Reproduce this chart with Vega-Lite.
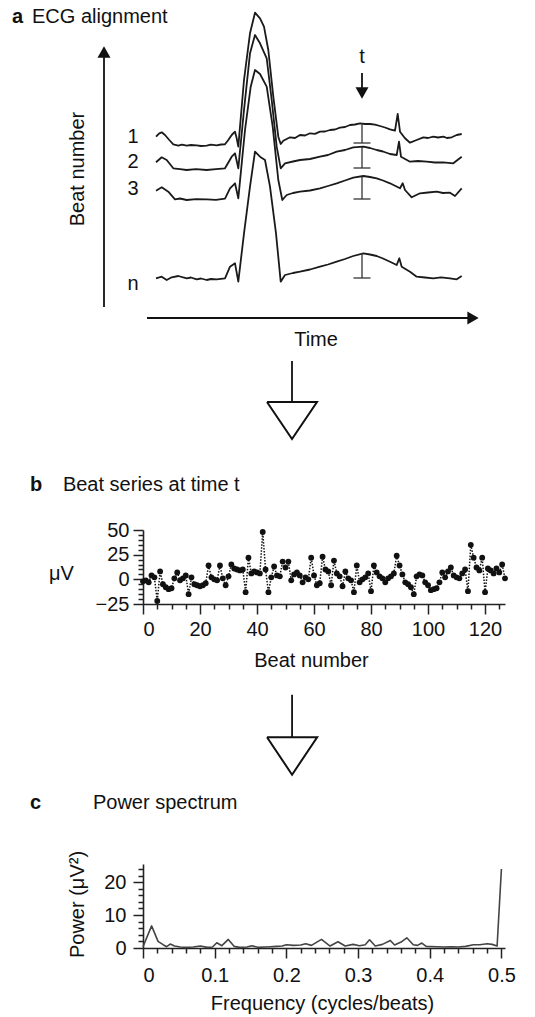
{
"$schema": "https://vega.github.io/schema/vega-lite/v6.json",
"padding": {"left": 12, "top": 0, "right": 5, "bottom": 5},
"background": "white",
"bounds": "flush",
"spacing": 260,
"config": {
  "font": "Liberation Sans",
  "view": {"stroke": null},
  "axis": {"grid": false, "domainColor": "#222", "tickColor": "#222", "labelColor": "#111", "titleColor": "#111", "labelFontSize": 20, "titleFontSize": 20, "titleFontWeight": "normal", "domainWidth": 1.6, "tickWidth": 1.5, "labelFont": "Liberation Sans", "titleFont": "Liberation Sans"}
},
"datasets": {
  "ecg": [
    {"beat":"1","time":13,"level":133.3},{"beat":"1","time":16.3,"level":136.7},{"beat":"1","time":18.7,"level":137.7},{"beat":"1","time":22,"level":135},{"beat":"1","time":26.3,"level":130},{"beat":"1","time":30.3,"level":125.7},{"beat":"1","time":35.3,"level":124.3},{"beat":"1","time":39,"level":125.3},{"beat":"1","time":43.7,"level":124.3},{"beat":"1","time":48,"level":125},{"beat":"1","time":53.7,"level":124.7},{"beat":"1","time":58,"level":124},{"beat":"1","time":63.7,"level":124.3},{"beat":"1","time":68,"level":125.3},{"beat":"1","time":73.7,"level":124.7},{"beat":"1","time":78,"level":125.5},{"beat":"1","time":82,"level":125.7},{"beat":"1","time":85.3,"level":130},{"beat":"1","time":88.7,"level":135},{"beat":"1","time":92,"level":138.3},{"beat":"1","time":93.7,"level":131.7},{"beat":"1","time":95.3,"level":123.3},{"beat":"1","time":101,"level":190},{"beat":"1","time":107,"level":236.7},{"beat":"1","time":112,"level":257.3},{"beat":"1","time":117,"level":251.7},{"beat":"1","time":121,"level":243.3},{"beat":"1","time":125.3,"level":220},{"beat":"1","time":130.3,"level":173.3},{"beat":"1","time":135.3,"level":133.3},{"beat":"1","time":137.7,"level":126},{"beat":"1","time":140.3,"level":129.3},{"beat":"1","time":147,"level":132.7},{"beat":"1","time":152,"level":132},{"beat":"1","time":157,"level":135},{"beat":"1","time":162,"level":134.5},{"beat":"1","time":167,"level":136.7},{"beat":"1","time":172,"level":136.2},{"beat":"1","time":177,"level":138.3},{"beat":"1","time":182,"level":138.5},{"beat":"1","time":187,"level":140},{"beat":"1","time":192,"level":140.5},{"beat":"1","time":197,"level":142.3},{"beat":"1","time":202,"level":143},{"beat":"1","time":207,"level":145},{"beat":"1","time":212,"level":145.5},{"beat":"1","time":217,"level":146.7},{"beat":"1","time":222,"level":146},{"beat":"1","time":227,"level":146},{"beat":"1","time":232,"level":145.3},{"beat":"1","time":237,"level":144},{"beat":"1","time":242,"level":142.5},{"beat":"1","time":247,"level":140.7},{"beat":"1","time":252,"level":139.3},{"beat":"1","time":254.7,"level":156},{"beat":"1","time":257,"level":138.3},{"beat":"1","time":262,"level":131.7},{"beat":"1","time":267,"level":127.3},{"beat":"1","time":273.7,"level":130},{"beat":"1","time":280.3,"level":132.7},{"beat":"1","time":285,"level":132},{"beat":"1","time":290.3,"level":133.3},{"beat":"1","time":295,"level":132.5},{"beat":"1","time":300.3,"level":133.3},{"beat":"1","time":304,"level":132},{"beat":"1","time":308.7,"level":132.7},{"beat":"1","time":313.7,"level":135},{"beat":"1","time":318.7,"level":136},
    {"beat":"2","time":13,"level":107.7},{"beat":"2","time":18.7,"level":112.7},{"beat":"2","time":23.7,"level":110},{"beat":"2","time":30.3,"level":101.7},{"beat":"2","time":37,"level":100.8},{"beat":"2","time":43.7,"level":100},{"beat":"2","time":53,"level":100.8},{"beat":"2","time":63.7,"level":100},{"beat":"2","time":73,"level":100.8},{"beat":"2","time":82,"level":101.7},{"beat":"2","time":88.7,"level":113.3},{"beat":"2","time":92,"level":116.7},{"beat":"2","time":95.3,"level":101.7},{"beat":"2","time":101,"level":160},{"beat":"2","time":107,"level":216.7},{"beat":"2","time":112,"level":235},{"beat":"2","time":117,"level":226.7},{"beat":"2","time":123.7,"level":211.7},{"beat":"2","time":128.7,"level":170},{"beat":"2","time":133.7,"level":123.3},{"beat":"2","time":137.7,"level":101.7},{"beat":"2","time":142,"level":106.7},{"beat":"2","time":150,"level":108.5},{"beat":"2","time":157,"level":110},{"beat":"2","time":167,"level":111},{"beat":"2","time":177,"level":113.3},{"beat":"2","time":185,"level":115},{"beat":"2","time":193.7,"level":118.3},{"beat":"2","time":202,"level":120},{"beat":"2","time":210.3,"level":122.7},{"beat":"2","time":220.3,"level":123.3},{"beat":"2","time":227,"level":122},{"beat":"2","time":233.7,"level":120},{"beat":"2","time":240,"level":118.5},{"beat":"2","time":247,"level":116},{"beat":"2","time":253.7,"level":115},{"beat":"2","time":256,"level":128.3},{"beat":"2","time":258,"level":113.3},{"beat":"2","time":267,"level":108.3},{"beat":"2","time":275,"level":109},{"beat":"2","time":283.7,"level":108.3},{"beat":"2","time":292,"level":107.5},{"beat":"2","time":300.3,"level":107.7},{"beat":"2","time":310.3,"level":106.7},{"beat":"2","time":318.7,"level":113.3},
    {"beat":"3","time":13,"level":79.3},{"beat":"3","time":18.7,"level":82.7},{"beat":"3","time":25.3,"level":78.3},{"beat":"3","time":32,"level":70.7},{"beat":"3","time":37,"level":71.5},{"beat":"3","time":43.7,"level":70},{"beat":"3","time":53,"level":70.8},{"beat":"3","time":63.7,"level":70.7},{"beat":"3","time":73,"level":70.2},{"beat":"3","time":82,"level":71.3},{"beat":"3","time":87,"level":81.7},{"beat":"3","time":92,"level":86.7},{"beat":"3","time":95.3,"level":71.7},{"beat":"3","time":102,"level":140},{"beat":"3","time":107.7,"level":183.3},{"beat":"3","time":112,"level":200},{"beat":"3","time":117,"level":196},{"beat":"3","time":123.7,"level":183.3},{"beat":"3","time":129.7,"level":143.3},{"beat":"3","time":135.3,"level":90},{"beat":"3","time":139.3,"level":70},{"beat":"3","time":143.7,"level":75},{"beat":"3","time":150,"level":77},{"beat":"3","time":157,"level":78.3},{"beat":"3","time":167,"level":79.5},{"beat":"3","time":177,"level":81.7},{"beat":"3","time":185,"level":84},{"beat":"3","time":193.7,"level":86.7},{"beat":"3","time":202,"level":89.5},{"beat":"3","time":210.3,"level":92.3},{"beat":"3","time":220.3,"level":94},{"beat":"3","time":227,"level":93},{"beat":"3","time":233.7,"level":91.7},{"beat":"3","time":240,"level":89.5},{"beat":"3","time":247,"level":86.7},{"beat":"3","time":257,"level":81.7},{"beat":"3","time":259.7,"level":86.7},{"beat":"3","time":262,"level":80},{"beat":"3","time":268.7,"level":72.7},{"beat":"3","time":277,"level":76.7},{"beat":"3","time":285,"level":77.5},{"beat":"3","time":293.7,"level":78.3},{"beat":"3","time":300,"level":77},{"beat":"3","time":307,"level":77.3},{"beat":"3","time":312,"level":74},{"beat":"3","time":318.7,"level":81.7},
    {"beat":"n","time":13,"level":-8.3},{"beat":"n","time":18.7,"level":-6.7},{"beat":"n","time":23.7,"level":-10},{"beat":"n","time":28.7,"level":-7.3},{"beat":"n","time":35.3,"level":-6},{"beat":"n","time":43.7,"level":-8.3},{"beat":"n","time":48,"level":-7.5},{"beat":"n","time":53.7,"level":-9.3},{"beat":"n","time":58,"level":-8.5},{"beat":"n","time":63.7,"level":-10},{"beat":"n","time":68,"level":-9},{"beat":"n","time":73.7,"level":-9.3},{"beat":"n","time":82,"level":-8.3},{"beat":"n","time":87,"level":3.3},{"beat":"n","time":92,"level":6.7},{"beat":"n","time":95.3,"level":-11.7},{"beat":"n","time":101,"level":36.7},{"beat":"n","time":107,"level":83.3},{"beat":"n","time":112,"level":118.3},{"beat":"n","time":117,"level":113.3},{"beat":"n","time":122,"level":110},{"beat":"n","time":127,"level":83.3},{"beat":"n","time":133,"level":36.7},{"beat":"n","time":137.7,"level":-11.7},{"beat":"n","time":142,"level":-5},{"beat":"n","time":150,"level":-3},{"beat":"n","time":157,"level":-1.7},{"beat":"n","time":167,"level":0.5},{"beat":"n","time":177,"level":3.3},{"beat":"n","time":185,"level":5.5},{"beat":"n","time":193.7,"level":8.3},{"beat":"n","time":202,"level":11},{"beat":"n","time":210.3,"level":14},{"beat":"n","time":220.3,"level":16.7},{"beat":"n","time":227,"level":15.5},{"beat":"n","time":233.7,"level":14},{"beat":"n","time":240,"level":11.5},{"beat":"n","time":247,"level":8.3},{"beat":"n","time":253.7,"level":5},{"beat":"n","time":256.3,"level":11.7},{"beat":"n","time":258.7,"level":3.3},{"beat":"n","time":267,"level":-1.7},{"beat":"n","time":273.7,"level":-6.7},{"beat":"n","time":282,"level":-7.5},{"beat":"n","time":290.3,"level":-8.3},{"beat":"n","time":298,"level":-7.3},{"beat":"n","time":307,"level":-8.3},{"beat":"n","time":313.7,"level":-9.3},{"beat":"n","time":318.7,"level":-6}
  ],
  "ebars": [
    {"beat":"1","x":219,"top":147,"bottom":127},
    {"beat":"2","x":219,"top":123,"bottom":102},
    {"beat":"3","x":219,"top":93,"bottom":71},
    {"beat":"n","x":219,"top":17,"bottom":-8}
  ],
  "shaftsA": [
    {"x":-39,"y":-37,"x2":-39,"y2":213},
    {"x":4,"y":-48,"x2":326,"y2":-48},
    {"x":219,"y":197,"x2":219,"y2":182},
    {"x":149,"y":-91,"x2":149,"y2":-132}
  ],
  "headsA": [
    {"x":-39,"y":218,"dir":"up"},
    {"x":330,"y":-48,"dir":"right"},
    {"x":219,"y":177,"dir":"down"}
  ],
  "triA": [
    {"i":0,"x":124,"y":-132},{"i":1,"x":174,"y":-132},{"i":2,"x":149,"y":-169},{"i":3,"x":124,"y":-132}
  ],
  "labelsA": [
    {"x":-10,"y":133,"text":"1"},{"x":-10,"y":108,"text":"2"},{"x":-10,"y":81,"text":"3"},{"x":-10,"y":-14,"text":"n"},{"x":219,"y":213,"text":"t"},{"x":173,"y":-70,"text":"Time"}
  ],
  "boldA": [{"x":-131,"y":253,"text":"a"}],
  "titleA": [{"x":-111,"y":253,"text":"ECG alignment"}],
  "rotA": [{"x":-65,"y":101,"text":"Beat number"}],
  "beats": [
    {"beat":0,"uV":-2},{"beat":1,"uV":-1},{"beat":2,"uV":-3},{"beat":3,"uV":4},{"beat":4,"uV":2},{"beat":5,"uV":-22},{"beat":6,"uV":8},{"beat":7,"uV":-5},{"beat":8,"uV":-8},{"beat":9,"uV":-10},
    {"beat":10,"uV":-9},{"beat":11,"uV":1},{"beat":12,"uV":7},{"beat":13,"uV":-1},{"beat":14,"uV":1},{"beat":15,"uV":4},{"beat":16,"uV":-15},{"beat":17,"uV":2},{"beat":18,"uV":-5},{"beat":19,"uV":-6},
    {"beat":20,"uV":-7},{"beat":21,"uV":-6},{"beat":22,"uV":-4},{"beat":23,"uV":14},{"beat":24,"uV":2},{"beat":25,"uV":0},{"beat":26,"uV":-1},{"beat":27,"uV":14},{"beat":28,"uV":1},{"beat":29,"uV":-6},
    {"beat":30,"uV":3},{"beat":31,"uV":15},{"beat":32,"uV":11},{"beat":33,"uV":10},{"beat":34,"uV":9},{"beat":35,"uV":10},{"beat":36,"uV":-13},{"beat":37,"uV":22},{"beat":38,"uV":6},{"beat":39,"uV":8},
    {"beat":40,"uV":7},{"beat":41,"uV":6},{"beat":42,"uV":48},{"beat":43,"uV":10},{"beat":44,"uV":-13},{"beat":45,"uV":2},{"beat":46,"uV":13},{"beat":47,"uV":4},{"beat":48,"uV":3},{"beat":49,"uV":18},
    {"beat":50,"uV":12},{"beat":51,"uV":18},{"beat":52,"uV":-1},{"beat":53,"uV":5},{"beat":54,"uV":7},{"beat":55,"uV":4},{"beat":56,"uV":-3},{"beat":57,"uV":2},{"beat":58,"uV":0},{"beat":59,"uV":22},
    {"beat":60,"uV":4},{"beat":61,"uV":-6},{"beat":62,"uV":-4},{"beat":63,"uV":23},{"beat":64,"uV":10},{"beat":65,"uV":8},{"beat":66,"uV":-6},{"beat":67,"uV":19},{"beat":68,"uV":6},{"beat":69,"uV":3},
    {"beat":70,"uV":-7},{"beat":71,"uV":8},{"beat":72,"uV":1},{"beat":73,"uV":-1},{"beat":74,"uV":-13},{"beat":75,"uV":14},{"beat":76,"uV":-3},{"beat":77,"uV":0},{"beat":78,"uV":2},{"beat":79,"uV":6},
    {"beat":80,"uV":-12},{"beat":81,"uV":14},{"beat":82,"uV":7},{"beat":83,"uV":3},{"beat":84,"uV":1},{"beat":85,"uV":-3},{"beat":86,"uV":1},{"beat":87,"uV":3},{"beat":88,"uV":6},{"beat":89,"uV":24},
    {"beat":90,"uV":14},{"beat":91,"uV":5},{"beat":92,"uV":-3},{"beat":93,"uV":-5},{"beat":94,"uV":-8},{"beat":95,"uV":-15},{"beat":96,"uV":3},{"beat":97,"uV":5},{"beat":98,"uV":4},{"beat":99,"uV":-3},
    {"beat":100,"uV":-6},{"beat":101,"uV":-11},{"beat":102,"uV":-10},{"beat":103,"uV":-9},{"beat":104,"uV":-3},{"beat":105,"uV":7},{"beat":106,"uV":2},{"beat":107,"uV":8},{"beat":108,"uV":12},{"beat":109,"uV":4},
    {"beat":110,"uV":2},{"beat":111,"uV":1},{"beat":112,"uV":6},{"beat":113,"uV":10},{"beat":114,"uV":-12},{"beat":115,"uV":35},{"beat":116,"uV":22},{"beat":117,"uV":12},{"beat":118,"uV":9},{"beat":119,"uV":22},
    {"beat":120,"uV":-13},{"beat":121,"uV":11},{"beat":122,"uV":9},{"beat":123,"uV":6},{"beat":124,"uV":11},{"beat":125,"uV":7},{"beat":126,"uV":15},{"beat":127,"uV":1}
  ],
  "boldB": [{"x":-39.6,"y":95.6,"text":"b"}],
  "titleB": [{"x":-28.1,"y":95.6,"text":"Beat series at time t"}],
  "shaftB": [{"x":52.3,"y":-117,"x2":52.3,"y2":-160}],
  "triB": [{"i":0,"x":43.5,"y":-160},{"i":1,"x":61.1,"y":-160},{"i":2,"x":52.3,"y":-198},{"i":3,"x":43.5,"y":-160}],
  "power": [
    {"f":0,"p":0.4},{"f":0.012,"p":6.7},{"f":0.021,"p":2.0},{"f":0.028,"p":1.0},{"f":0.033,"p":0.4},{"f":0.038,"p":1.2},{"f":0.044,"p":0.6},{"f":0.052,"p":0.3},{"f":0.06,"p":0.2},{"f":0.07,"p":0.3},{"f":0.08,"p":0.6},{"f":0.09,"p":0.2},{"f":0.097,"p":0.3},{"f":0.103,"p":1.6},{"f":0.11,"p":0.7},{"f":0.119,"p":2.6},{"f":0.127,"p":0.5},{"f":0.135,"p":0.2},{"f":0.145,"p":0.3},{"f":0.152,"p":0.7},{"f":0.16,"p":0.2},{"f":0.17,"p":0.3},{"f":0.178,"p":0.4},{"f":0.186,"p":0.5},{"f":0.194,"p":0.6},{"f":0.2,"p":1.0},{"f":0.21,"p":0.8},{"f":0.22,"p":0.9},{"f":0.227,"p":1.3},{"f":0.235,"p":0.8},{"f":0.249,"p":2.6},{"f":0.261,"p":0.6},{"f":0.272,"p":1.9},{"f":0.282,"p":0.6},{"f":0.293,"p":1.1},{"f":0.302,"p":0.7},{"f":0.31,"p":1.0},{"f":0.316,"p":2.5},{"f":0.324,"p":0.6},{"f":0.334,"p":1.1},{"f":0.345,"p":2.3},{"f":0.351,"p":0.9},{"f":0.36,"p":1.8},{"f":0.368,"p":3.1},{"f":0.377,"p":1.0},{"f":0.383,"p":0.8},{"f":0.389,"p":1.5},{"f":0.395,"p":0.5},{"f":0.41,"p":0.4},{"f":0.42,"p":0.3},{"f":0.43,"p":0.4},{"f":0.44,"p":0.3},{"f":0.45,"p":0.5},{"f":0.461,"p":1.0},{"f":0.47,"p":1.0},{"f":0.48,"p":1.3},{"f":0.487,"p":1.1},{"f":0.494,"p":0.6},{"f":0.5,"p":24}
  ],
  "boldC": [{"x":-0.1576,"y":44,"text":"c"}],
  "titleC": [{"x":-0.0698,"y":44,"text":"Power spectrum"}]
},
"vconcat": [
  {
    "width": 330, "height": 270,
    "layer": [
      {"data": {"name": "ecg"}, "mark": {"type": "line", "color": "#1a1a1a", "strokeWidth": 1.8, "strokeJoin": "round", "clip": false},
       "encoding": {"x": {"field": "time", "type": "quantitative", "scale": {"domain": [0, 330], "nice": false, "zero": false}, "axis": null},
                    "y": {"field": "level", "type": "quantitative", "scale": {"domain": [0, 270], "nice": false, "zero": false}, "axis": null},
                    "detail": {"field": "beat", "type": "nominal"}}},
      {"data": {"name": "ebars"}, "mark": {"type": "rule", "color": "#333", "strokeWidth": 1.3},
       "encoding": {"x": {"field": "x", "type": "quantitative", "scale": {"domain": [0, 330], "nice": false, "zero": false}, "axis": null},
                    "y": {"field": "top", "type": "quantitative", "scale": {"domain": [0, 270], "nice": false, "zero": false}, "axis": null},
                    "y2": {"field": "bottom"}}},
      {"data": {"name": "ebars"}, "mark": {"type": "tick", "orient": "horizontal", "size": 17, "thickness": 1.3, "color": "#333", "opacity": 1},
       "encoding": {"x": {"field": "x", "type": "quantitative", "scale": {"domain": [0, 330], "nice": false, "zero": false}, "axis": null},
                    "y": {"field": "bottom", "type": "quantitative", "scale": {"domain": [0, 270], "nice": false, "zero": false}, "axis": null}}},
      {"data": {"name": "shaftsA"}, "mark": {"type": "rule", "color": "#111", "strokeWidth": 1.8},
       "encoding": {"x": {"field": "x", "type": "quantitative", "scale": {"domain": [0, 330], "nice": false, "zero": false}, "axis": null},
                    "y": {"field": "y", "type": "quantitative", "scale": {"domain": [0, 270], "nice": false, "zero": false}, "axis": null},
                    "x2": {"field": "x2"}, "y2": {"field": "y2"}}},
      {"data": {"name": "headsA"}, "mark": {"type": "point", "filled": true, "size": 170, "color": "#111", "opacity": 1},
       "encoding": {"x": {"field": "x", "type": "quantitative", "scale": {"domain": [0, 330], "nice": false, "zero": false}, "axis": null},
                    "y": {"field": "y", "type": "quantitative", "scale": {"domain": [0, 270], "nice": false, "zero": false}, "axis": null},
                    "shape": {"field": "dir", "type": "nominal", "scale": {"domain": ["up", "right", "down"], "range": ["triangle-up", "triangle-right", "triangle-down"]}, "legend": null}}},
      {"data": {"name": "triA"}, "mark": {"type": "line", "color": "#111", "strokeWidth": 2, "strokeJoin": "miter", "clip": false},
       "encoding": {"x": {"field": "x", "type": "quantitative", "scale": {"domain": [0, 330], "nice": false, "zero": false}, "axis": null},
                    "y": {"field": "y", "type": "quantitative", "scale": {"domain": [0, 270], "nice": false, "zero": false}, "axis": null},
                    "order": {"field": "i", "type": "quantitative"}}},
      {"data": {"name": "labelsA"}, "mark": {"type": "text", "fontSize": 20, "align": "center", "baseline": "middle", "color": "#111"},
       "encoding": {"x": {"field": "x", "type": "quantitative", "scale": {"domain": [0, 330], "nice": false, "zero": false}, "axis": null},
                    "y": {"field": "y", "type": "quantitative", "scale": {"domain": [0, 270], "nice": false, "zero": false}, "axis": null},
                    "text": {"field": "text"}}},
      {"data": {"name": "boldA"}, "mark": {"type": "text", "fontSize": 20, "fontWeight": "bold", "align": "left", "baseline": "middle", "color": "#111"},
       "encoding": {"x": {"field": "x", "type": "quantitative", "scale": {"domain": [0, 330], "nice": false, "zero": false}, "axis": null},
                    "y": {"field": "y", "type": "quantitative", "scale": {"domain": [0, 270], "nice": false, "zero": false}, "axis": null},
                    "text": {"field": "text"}}},
      {"data": {"name": "titleA"}, "mark": {"type": "text", "fontSize": 20, "align": "left", "baseline": "middle", "color": "#111"},
       "encoding": {"x": {"field": "x", "type": "quantitative", "scale": {"domain": [0, 330], "nice": false, "zero": false}, "axis": null},
                    "y": {"field": "y", "type": "quantitative", "scale": {"domain": [0, 270], "nice": false, "zero": false}, "axis": null},
                    "text": {"field": "text"}}},
      {"data": {"name": "rotA"}, "mark": {"type": "text", "fontSize": 20, "align": "center", "baseline": "middle", "angle": 270, "color": "#111"},
       "encoding": {"x": {"field": "x", "type": "quantitative", "scale": {"domain": [0, 330], "nice": false, "zero": false}, "axis": null},
                    "y": {"field": "y", "type": "quantitative", "scale": {"domain": [0, 270], "nice": false, "zero": false}, "axis": null},
                    "text": {"field": "text"}}}
    ]
  },
  {
    "width": 362, "height": 74,
    "resolve": {"axis": {"x": "independent", "y": "independent"}},
    "layer": [
      {"data": {"name": "beats"}, "mark": {"type": "line", "color": "#111", "strokeWidth": 1.5, "strokeDash": [1.5, 1.5]},
       "encoding": {"x": {"field": "beat", "type": "quantitative", "scale": {"domain": [0, 127], "nice": false, "zero": false},
                          "axis": {"orient": "bottom", "values": [0, 20, 40, 60, 80, 100, 120], "tickSize": 10, "labelPadding": 5, "title": "Beat number", "titleX": 168, "titleY": 56, "titleAlign": "center", "titleBaseline": "middle"}},
                    "y": {"field": "uV", "type": "quantitative", "scale": {"domain": [-25, 50], "nice": false, "zero": false},
                          "axis": {"orient": "left", "values": [-25, 0, 25, 50], "tickSize": 10, "labelPadding": 4, "title": "μV", "titleAngle": 0, "titleX": -82, "titleY": 43, "titleAlign": "center", "titleBaseline": "middle"}}}},
      {"data": {"name": "beats"}, "mark": {"type": "point", "filled": true, "size": 34, "color": "#111", "opacity": 1},
       "encoding": {"x": {"field": "beat", "type": "quantitative", "scale": {"domain": [0, 127], "nice": false, "zero": false},
                          "axis": {"orient": "bottom", "values": [5, 10, 15, 25, 30, 35, 45, 50, 55, 65, 70, 75, 85, 90, 95, 105, 110, 115, 125], "tickSize": 5, "labels": false, "domain": false, "title": null}},
                    "y": {"field": "uV", "type": "quantitative", "scale": {"domain": [-25, 50], "nice": false, "zero": false},
                          "axis": {"orient": "left", "values": [-20, -15, -10, -5, 5, 10, 15, 20, 30, 35, 40, 45], "tickSize": 5, "labels": false, "domain": false, "title": null}}}},
      {"data": {"name": "boldB"}, "mark": {"type": "text", "fontSize": 20, "fontWeight": "bold", "align": "left", "baseline": "middle", "color": "#111"},
       "encoding": {"x": {"field": "x", "type": "quantitative", "scale": {"domain": [0, 127], "nice": false, "zero": false}, "axis": null},
                    "y": {"field": "y", "type": "quantitative", "scale": {"domain": [-25, 50], "nice": false, "zero": false}, "axis": null},
                    "text": {"field": "text"}}},
      {"data": {"name": "titleB"}, "mark": {"type": "text", "fontSize": 20, "align": "left", "baseline": "middle", "color": "#111"},
       "encoding": {"x": {"field": "x", "type": "quantitative", "scale": {"domain": [0, 127], "nice": false, "zero": false}, "axis": null},
                    "y": {"field": "y", "type": "quantitative", "scale": {"domain": [-25, 50], "nice": false, "zero": false}, "axis": null},
                    "text": {"field": "text"}}},
      {"data": {"name": "shaftB"}, "mark": {"type": "rule", "color": "#111", "strokeWidth": 1.8},
       "encoding": {"x": {"field": "x", "type": "quantitative", "scale": {"domain": [0, 127], "nice": false, "zero": false}, "axis": null},
                    "y": {"field": "y", "type": "quantitative", "scale": {"domain": [-25, 50], "nice": false, "zero": false}, "axis": null},
                    "x2": {"field": "x2"}, "y2": {"field": "y2"}}},
      {"data": {"name": "triB"}, "mark": {"type": "line", "color": "#111", "strokeWidth": 2, "strokeJoin": "miter", "clip": false},
       "encoding": {"x": {"field": "x", "type": "quantitative", "scale": {"domain": [0, 127], "nice": false, "zero": false}, "axis": null},
                    "y": {"field": "y", "type": "quantitative", "scale": {"domain": [-25, 50], "nice": false, "zero": false}, "axis": null},
                    "order": {"field": "i", "type": "quantitative"}}}
    ]
  },
  {
    "width": 362, "height": 84,
    "resolve": {"axis": {"x": "independent", "y": "independent"}},
    "layer": [
      {"data": {"name": "power"}, "mark": {"type": "line", "color": "#444", "strokeWidth": 1.6, "strokeJoin": "round"},
       "encoding": {"x": {"field": "f", "type": "quantitative", "scale": {"domain": [0, 0.505], "nice": false, "zero": false},
                          "axis": {"orient": "bottom", "values": [0, 0.1, 0.2, 0.3, 0.4, 0.5], "format": "~g", "tickSize": 10, "labelPadding": 7, "title": "Frequency (cycles/beats)", "titleX": 179, "titleY": 55, "titleAlign": "center", "titleBaseline": "middle"}},
                    "y": {"field": "p", "type": "quantitative", "scale": {"domain": [0, 25.5], "nice": false, "zero": false},
                          "axis": {"orient": "left", "values": [0, 10, 20], "tickSize": 10, "labelPadding": 7, "title": "Power  (μV²)", "titleX": -66, "titleY": 40, "titleAlign": "center", "titleBaseline": "middle"}}}},
      {"data": {"name": "power"}, "mark": {"type": "point", "opacity": 0},
       "encoding": {"x": {"field": "f", "type": "quantitative", "scale": {"domain": [0, 0.505], "nice": false, "zero": false},
                          "axis": {"orient": "bottom", "values": [0.02, 0.04, 0.06, 0.08, 0.12, 0.14, 0.16, 0.18, 0.22, 0.24, 0.26, 0.28, 0.32, 0.34, 0.36, 0.38, 0.42, 0.44, 0.46, 0.48], "tickSize": 5, "labels": false, "domain": false, "title": null}},
                    "y": {"field": "p", "type": "quantitative", "scale": {"domain": [0, 25.5], "nice": false, "zero": false},
                          "axis": {"orient": "left", "values": [2, 4, 6, 8, 12, 14, 16, 18, 22, 24], "tickSize": 5, "labels": false, "domain": false, "title": null}}}},
      {"data": {"name": "boldC"}, "mark": {"type": "text", "fontSize": 20, "fontWeight": "bold", "align": "left", "baseline": "middle", "color": "#111"},
       "encoding": {"x": {"field": "x", "type": "quantitative", "scale": {"domain": [0, 0.505], "nice": false, "zero": false}, "axis": null},
                    "y": {"field": "y", "type": "quantitative", "scale": {"domain": [0, 25.5], "nice": false, "zero": false}, "axis": null},
                    "text": {"field": "text"}}},
      {"data": {"name": "titleC"}, "mark": {"type": "text", "fontSize": 20, "align": "left", "baseline": "middle", "color": "#111"},
       "encoding": {"x": {"field": "x", "type": "quantitative", "scale": {"domain": [0, 0.505], "nice": false, "zero": false}, "axis": null},
                    "y": {"field": "y", "type": "quantitative", "scale": {"domain": [0, 25.5], "nice": false, "zero": false}, "axis": null},
                    "text": {"field": "text"}}}
    ]
  }
]
}
